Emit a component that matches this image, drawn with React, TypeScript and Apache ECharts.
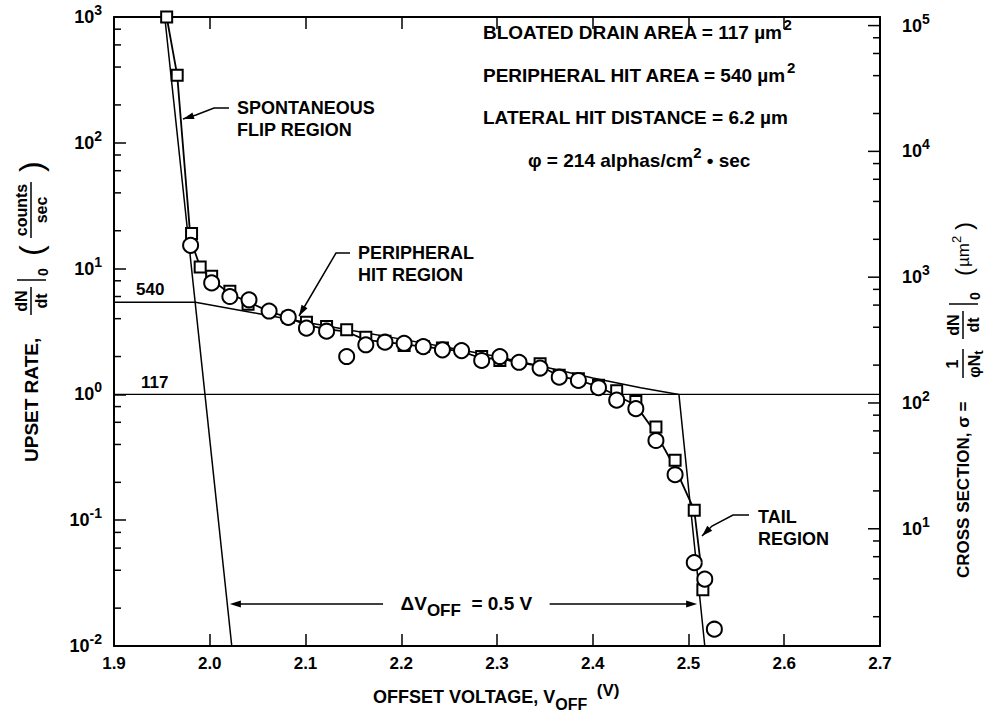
import React, { useEffect, useRef } from 'react';
import * as echarts from 'echarts';

// ---- axes ----
const X_MIN = 1.9;
const X_MAX = 2.7;
const X_STEP = 0.1;
const Y_MIN = 0.01;
const Y_MAX = 1000;
const SIGMA_PER_RATE = 117; // µm² per (count/sec): 117 µm² ↔ 1 count/sec

const leftMinorTicks = [0.02, 0.04, 0.06, 0.08, 0.2, 0.4, 0.6, 0.8, 2, 4, 6, 8, 20, 40, 60, 80, 200, 400, 600, 800];
const rightMajorTicks = [10, 100, 1000, 10000, 100000];
const rightMinorTicks = [2, 4, 6, 8, 20, 40, 60, 80, 200, 400, 600, 800, 2000, 4000, 6000, 8000, 20000, 40000, 60000, 80000];

// ---- measured data (offset voltage V, upset rate counts/sec) ----
const squaresV = [1.955, 1.966, 1.981, 1.990, 2.002, 2.021, 2.040, 2.082, 2.101, 2.122, 2.143, 2.163, 2.183, 2.203, 2.223, 2.243, 2.284, 2.303, 2.345, 2.365, 2.385, 2.406, 2.425, 2.445, 2.466, 2.486, 2.506, 2.515];
const squaresR = [1000, 345, 19, 10.3, 8.7, 6.6, 5.2, 4.1, 3.75, 3.47, 3.26, 2.85, 2.65, 2.45, 2.4, 2.34, 2.0, 1.86, 1.75, 1.42, 1.33, 1.18, 1.07, 0.88, 0.55, 0.30, 0.12, 0.028];

const circlesV = [1.980, 2.002, 2.021, 2.041, 2.062, 2.082, 2.101, 2.122, 2.143, 2.163, 2.183, 2.203, 2.223, 2.243, 2.263, 2.284, 2.303, 2.323, 2.345, 2.365, 2.385, 2.406, 2.425, 2.445, 2.466, 2.486, 2.506, 2.517, 2.527];
const circlesR = [15.3, 7.7, 6.0, 5.65, 4.6, 4.1, 3.36, 3.18, 2.0, 2.48, 2.6, 2.55, 2.4, 2.26, 2.23, 1.86, 2.0, 1.80, 1.62, 1.37, 1.29, 1.13, 0.90, 0.77, 0.43, 0.23, 0.046, 0.034, 0.0136];

// curve drawn through the measurements
const fitV = [1.955, 1.966, 1.980, 1.990, 2.002, 2.021, 2.041, 2.062, 2.082, 2.101, 2.122, 2.143, 2.163, 2.183, 2.203, 2.223, 2.243, 2.263, 2.284, 2.303, 2.323, 2.345, 2.365, 2.385, 2.406, 2.425, 2.445, 2.466, 2.486, 2.506, 2.512];
const fitR = [1000, 345, 17, 10.3, 8.2, 6.3, 5.4, 4.55, 4.1, 3.55, 3.3, 3.15, 2.7, 2.62, 2.5, 2.4, 2.3, 2.2, 1.93, 1.93, 1.79, 1.68, 1.4, 1.3, 1.15, 0.98, 0.82, 0.49, 0.26, 0.12, 0.05];

// model lines
const flipV = [1.953, 2.023];
const flipR = [1000, 0.01];
const periphV = [1.9, 1.985, 2.05, 2.1, 2.15, 2.2, 2.25, 2.3, 2.35, 2.4, 2.45, 2.49, 2.517];
const periphR = [5.4, 5.4, 4.4, 3.75, 3.2, 2.75, 2.35, 2.0, 1.65, 1.35, 1.13, 1.0, 0.01];
const drainV = [1.9, 2.7];
const drainR = [1, 1];

// ΔV_OFF arrow (left tip, gap start, gap end, right tip) at rate level
const deltaV = [2.021, 2.181, 2.355, 2.509];
const deltaR = 0.0216;

const FONT = '"Liberation Sans", Arial, Helvetica, sans-serif';
const zip = (a: number[], b: number[]) => a.map((v, i) => [v, b[i]]);

function txt(text: string, x: number, y: number, size = 18, align = 'left', extra: any = {}) {
  return {
    type: 'text',
    x,
    y,
    z: 100,
    style: {
      text,
      fontSize: size,
      fontWeight: 'bold',
      fontFamily: FONT,
      fill: '#000',
      align,
      textAlign: align,
      verticalAlign: 'middle',
      textVerticalAlign: 'middle',
      ...extra,
    },
  };
}

function seg(x1: number, y1: number, x2: number, y2: number, w = 1.5) {
  return { type: 'line', z: 100, shape: { x1, y1, x2, y2 }, style: { stroke: '#000', lineWidth: w } };
}

function arrowHead(from: number[], tip: number[], len = 11, half = 3.5) {
  const dx = tip[0] - from[0];
  const dy = tip[1] - from[1];
  const d = Math.hypot(dx, dy) || 1;
  const ux = dx / d, uy = dy / d;
  const bx = tip[0] - ux * len, by = tip[1] - uy * len;
  return {
    type: 'polygon',
    z: 100,
    shape: { points: [tip, [bx - uy * half, by + ux * half], [bx + uy * half, by - ux * half]] },
    style: { fill: '#000' },
  };
}

function leader(points: number[][]) {
  const n = points.length;
  return [
    { type: 'polyline', z: 100, shape: { points }, style: { stroke: '#000', lineWidth: 1.5, fill: 'none' } },
    arrowHead(points[n - 2], points[n - 1]),
  ];
}

const supRich = {
  b: { fontSize: 18, fontWeight: 'bold', fontFamily: FONT, color: '#000', lineHeight: 28 },
  s: { fontSize: 14, fontWeight: 'bold', fontFamily: FONT, color: '#000', lineHeight: 12, verticalAlign: 'top' },
};

function powLabel(v: number) {
  const l = Math.log10(v);
  const e = Math.round(l);
  if (Math.abs(l - e) > 1e-6) return '';
  return `{b|10}{s|${e}}`;
}

function buildOption(): any {
  const lineStyle = (w: number) => ({ color: '#000', width: w, opacity: 1 });
  const marker = { color: '#ffffff', borderColor: '#000', borderWidth: 2, opacity: 1 };
  return {
    animation: false,
    backgroundColor: '#fff',
    textStyle: { fontFamily: FONT },
    grid: { left: 114, right: 112, top: 17, bottom: 70, containLabel: false },
    xAxis: [
      {
        type: 'value',
        min: X_MIN,
        max: X_MAX,
        interval: X_STEP,
        axisLine: { show: true, lineStyle: { color: '#000', width: 2 } },
        axisTick: { show: true, inside: true, length: 12, lineStyle: { color: '#000', width: 1.5 } },
        axisLabel: {
          show: true,
          margin: 9,
          fontSize: 17,
          fontWeight: 'bold',
          fontFamily: FONT,
          color: '#000',
          formatter: (v: number) => v.toFixed(1),
        },
        splitLine: { show: false },
      },
      {
        type: 'value',
        position: 'top',
        min: X_MIN,
        max: X_MAX,
        interval: X_STEP,
        axisLine: { show: true, lineStyle: { color: '#000', width: 2 } },
        axisTick: { show: true, inside: true, length: 12, lineStyle: { color: '#000', width: 1.5 } },
        axisLabel: { show: false },
        splitLine: { show: false },
      },
    ],
    yAxis: [
      {
        type: 'log',
        logBase: 10,
        min: Y_MIN,
        max: Y_MAX,
        axisLine: { show: true, lineStyle: { color: '#000', width: 2 } },
        axisTick: { show: true, inside: true, length: 12, lineStyle: { color: '#000', width: 1.5 } },
        axisLabel: { show: true, margin: 12, formatter: powLabel, rich: supRich },
        splitLine: { show: false },
      },
      {
        type: 'log',
        logBase: 10,
        position: 'right',
        min: Y_MIN * SIGMA_PER_RATE,
        max: Y_MAX * SIGMA_PER_RATE,
        axisLine: { show: true, lineStyle: { color: '#000', width: 2 } },
        axisTick: { show: false },
        axisLabel: { show: true, margin: 22, formatter: powLabel, rich: supRich, showMinLabel: false, showMaxLabel: false },
        splitLine: { show: false },
      },
    ],
    series: [
      {
        name: 'drain', type: 'line', data: zip(drainV, drainR), symbol: 'none',
        lineStyle: lineStyle(1.2), z: 2, silent: true,
      },
      {
        name: 'flip', type: 'line', data: zip(flipV, flipR), symbol: 'none',
        lineStyle: lineStyle(1.5), z: 2, silent: true,
      },
      {
        name: 'peripheral', type: 'line', data: zip(periphV, periphR), symbol: 'none',
        lineStyle: lineStyle(1.5), z: 2, silent: true,
      },
      {
        name: 'fit', type: 'line', data: zip(fitV, fitR), symbol: 'none',
        lineStyle: lineStyle(1.8), z: 3, silent: true,
      },
      {
        name: 'squares', type: 'scatter', data: zip(squaresV, squaresR), symbol: 'rect', symbolSize: 11,
        itemStyle: marker, emphasis: { disabled: true }, z: 4, silent: true,
      },
      {
        name: 'circles', type: 'scatter', data: zip(circlesV, circlesR), symbol: 'circle', symbolSize: 15,
        itemStyle: marker, emphasis: { disabled: true }, z: 5, silent: true,
      },
      {
        name: 'leftMinor', type: 'custom', xAxisIndex: 0, yAxisIndex: 0, silent: true, clip: false,
        data: leftMinorTicks.map((v) => [X_MIN, v]),
        renderItem: (_p: any, api: any) => {
          const p = api.coord([api.value(0), api.value(1)]);
          return { type: 'line', shape: { x1: p[0], y1: p[1], x2: p[0] + 7, y2: p[1] }, style: { stroke: '#000', lineWidth: 1.5 } };
        },
      },
      {
        name: 'rightTicks', type: 'custom', xAxisIndex: 0, yAxisIndex: 1, silent: true, clip: false,
        data: rightMinorTicks.map((v) => [X_MAX, v, 0]).concat(rightMajorTicks.map((v) => [X_MAX, v, 1])),
        renderItem: (_p: any, api: any) => {
          const p = api.coord([api.value(0), api.value(1)]);
          const len = api.value(2) === 1 ? 12 : 7;
          return { type: 'line', shape: { x1: p[0], y1: p[1], x2: p[0] - len, y2: p[1] }, style: { stroke: '#000', lineWidth: 1.5 } };
        },
      },
    ],
  };
}

function buildGraphic(chart: any): any[] {
  const px = (v: number, r: number) => chart.convertToPixel({ xAxisIndex: 0, yAxisIndex: 0 }, [v, r]);
  const a = px(deltaV[0], deltaR);
  const b = px(deltaV[1], deltaR);
  const c = px(deltaV[2], deltaR);
  const d = px(deltaV[3], deltaR);
  const mid = (b[0] + c[0]) / 2;

  const g: any[] = [];
  // ΔV_OFF arrow
  g.push(seg(b[0], b[1], a[0] + 6, a[1]), arrowHead([b[0], b[1]], [a[0], a[1]]));
  g.push(seg(c[0], c[1], d[0] - 6, d[1]), arrowHead([c[0], c[1]], [d[0], d[1]]));
  g.push({
    type: 'text', x: mid, y: b[1], z: 100,
    style: {
      text: '{a|ΔV}{b|OFF}{a|  = 0.5 V}',
      align: 'center', textAlign: 'center', verticalAlign: 'middle', textVerticalAlign: 'middle',
      rich: {
        a: { fontSize: 19, fontWeight: 'bold', fontFamily: FONT, color: '#000', lineHeight: 30 },
        b: { fontSize: 17, fontWeight: 'bold', fontFamily: FONT, color: '#000', lineHeight: 17, verticalAlign: 'bottom' },
      },
    },
  });

  // region annotations
  g.push(txt('SPONTANEOUS', 237, 108, 18), txt('FLIP REGION', 237, 130, 18));
  g.push(...leader([[229, 108], [214, 108], [196, 115], [183, 119]]));
  g.push(txt('PERIPHERAL', 358, 253, 18), txt('HIT REGION', 358, 275, 18));
  g.push(...leader([[350, 253], [336, 253], [299, 316]]));
  g.push(txt('TAIL', 758, 517, 18), txt('REGION', 758, 539, 18));
  g.push(...leader([[749, 515], [733, 515], [712, 526], [702, 536]]));

  // 540 / 117 labels
  g.push(txt('540', 136, 289, 17), txt('117', 141, 382, 17));

  // parameter block
  const blockRich = {
    a: { fontSize: 19, fontWeight: 'bold', fontFamily: FONT, color: '#000', lineHeight: 30 },
    s: { fontSize: 15, fontWeight: 'bold', fontFamily: FONT, color: '#000', lineHeight: 14, verticalAlign: 'top' },
  };
  const rows = [
    ['{a|BLOATED DRAIN AREA = 117 µm}{s|2}', 483, 32],
    ['{a|PERIPHERAL HIT AREA = 540 µm}{s|2}', 483, 75],
    ['{a|LATERAL HIT DISTANCE = 6.2 µm}', 483, 117],
    ['{a|φ = 214 alphas/cm}{s|2}{a| • sec}', 528, 160],
  ];
  rows.forEach(([t, x, y]) => {
    g.push({
      type: 'text', x, y, z: 100,
      style: { text: t, rich: blockRich, align: 'left', textAlign: 'left', verticalAlign: 'middle', textVerticalAlign: 'middle' },
    });
  });

  // x axis title
  g.push({
    type: 'text', x: 373, y: 697, z: 100,
    style: {
      text: '{a|OFFSET VOLTAGE, V}{b|OFF}{c|  (V)}',
      align: 'left', textAlign: 'left', verticalAlign: 'middle', textVerticalAlign: 'middle',
      rich: {
        a: { fontSize: 18, fontWeight: 'bold', fontFamily: FONT, color: '#000', lineHeight: 30 },
        b: { fontSize: 16, fontWeight: 'bold', fontFamily: FONT, color: '#000', lineHeight: 16, verticalAlign: 'bottom' },
        c: { fontSize: 17, fontWeight: 'bold', fontFamily: FONT, color: '#000', lineHeight: 17, verticalAlign: 'top' },
      },
    },
  });

  // left y-axis title (rotated)
  const thin = { fontWeight: 'normal' };
  g.push({
    type: 'group', x: 31, y: 462, rotation: Math.PI / 2,
    children: [
      txt('UPSET RATE,', 0, 0, 19),
      txt('dN', 161, -10, 16, 'center'),
      seg(147, 0, 175, 0, 1.5),
      txt('dt', 161, 10, 16, 'center'),
      seg(182, -14, 182, 15, 1.5),
      txt('0', 186, 12, 14, 'left'),
      txt('(', 206, 0, 32, 'left', thin),
      txt('counts', 252, -10, 16, 'center'),
      seg(224, 0, 280, 0, 1.5),
      txt('sec', 252, 10, 16, 'center'),
      txt(')', 290, 0, 32, 'left', thin),
    ],
  });

  // right y-axis title (rotated)
  g.push({
    type: 'group', x: 963, y: 578, rotation: Math.PI / 2,
    children: [
      txt('CROSS SECTION, σ =', 0, 0, 17),
      txt('1', 214, -11, 16, 'center'),
      seg(200, 0, 229, 0, 1.5),
      {
        type: 'text', x: 214, y: 11, z: 100,
        style: {
          text: '{a|φN}{s|t}', align: 'center', textAlign: 'center', verticalAlign: 'middle', textVerticalAlign: 'middle',
          rich: {
            a: { fontSize: 16, fontWeight: 'bold', fontFamily: FONT, color: '#000', lineHeight: 22 },
            s: { fontSize: 13, fontWeight: 'bold', fontFamily: FONT, color: '#000', lineHeight: 13, verticalAlign: 'bottom' },
          },
        },
      },
      txt('dN', 253, -10, 16, 'center'),
      seg(239, 0, 267, 0, 1.5),
      txt('dt', 253, 10, 16, 'center'),
      seg(274, -14, 274, 15, 1.5),
      txt('0', 278, 12, 14, 'left'),
      txt('(', 302, 0, 24, 'left', thin),
      {
        type: 'text', x: 311, y: 0, z: 100,
        style: {
          text: '{a|µm}{s|2}', align: 'left', textAlign: 'left', verticalAlign: 'middle', textVerticalAlign: 'middle',
          rich: {
            a: { fontSize: 17, fontFamily: FONT, color: '#000', lineHeight: 26 },
            s: { fontSize: 13, fontFamily: FONT, color: '#000', lineHeight: 13, verticalAlign: 'top' },
          },
        },
      },
      txt(')', 348, 0, 24, 'left', thin),
    ],
  });

  return g;
}

export default function App() {
  const ref = useRef<HTMLDivElement>(null);
  useEffect(() => {
    if (!ref.current) return;
    const chart = echarts.init(ref.current, null, { renderer: 'svg' });
    chart.setOption(buildOption());
    chart.setOption({ graphic: buildGraphic(chart) });
    return () => chart.dispose();
  }, []);
  return (
    <div
      ref={ref}
      style={{ position: 'absolute', left: 0, top: 0, width: 992, height: 716, background: '#fff' }}
    />
  );
}
